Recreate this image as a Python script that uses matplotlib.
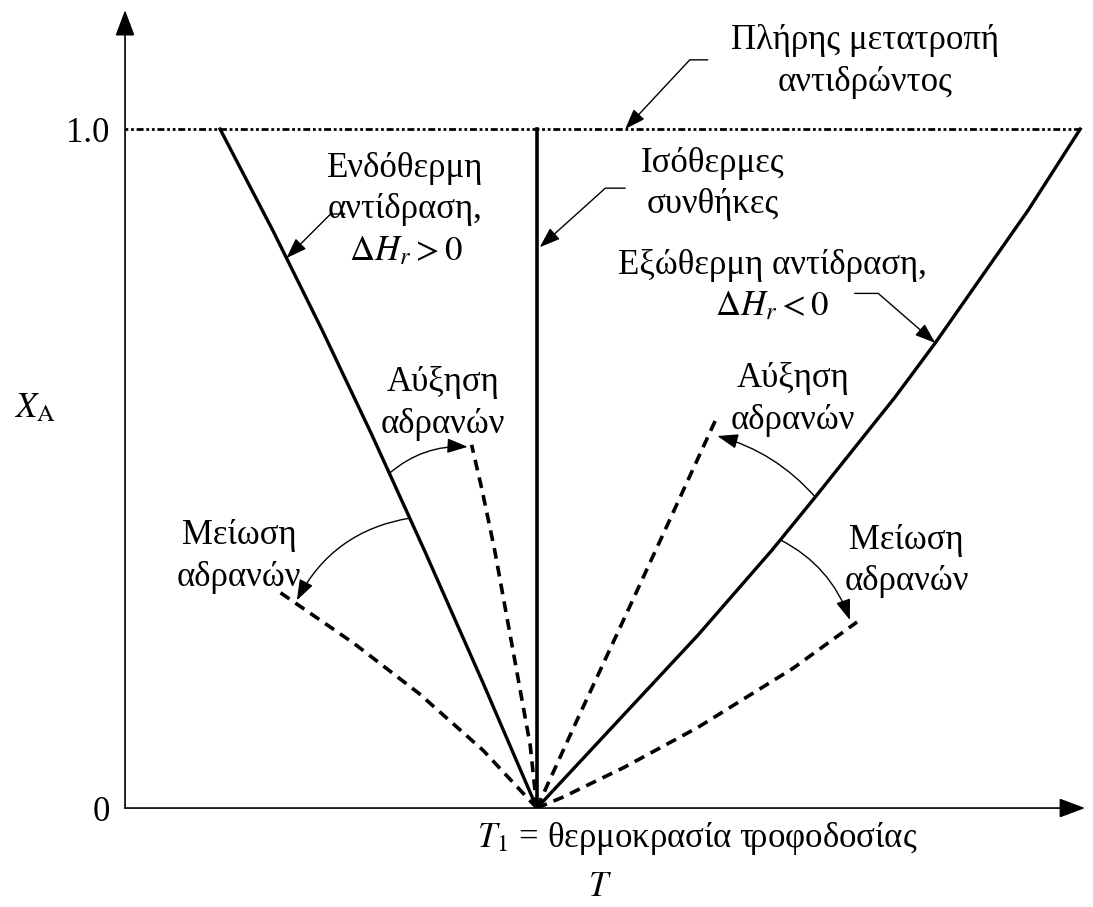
import numpy as np
import matplotlib.pyplot as plt

'''
Data read off the sketch (T in relative units, axis = 0..1, X_A = conversion)
'''

T1 = 0.429

# Solid curves
endo_T = [0.429, 0.373, 0.3117, 0.257, 0.2053, 0.1542, 0.099]
endo_X = [0.0, 0.184, 0.380, 0.550, 0.704, 0.850, 1.0]

iso_T = [0.429, 0.429]
iso_X = [0.0, 1.0]

exo_T = [0.429, 0.597, 0.674, 0.719, 0.802, 0.844, 0.941, 0.995]
exo_X = [0.0, 0.255, 0.380, 0.458, 0.605, 0.685, 0.881, 1.0]

# Dashed curves (more / less inerts)
endo_up_T = [0.429, 0.422, 0.404, 0.385, 0.372, 0.361]
endo_up_X = [0.0, 0.093, 0.233, 0.380, 0.468, 0.535]

endo_down_T = [0.429, 0.373, 0.306, 0.238, 0.162]
endo_down_X = [0.0, 0.085, 0.169, 0.243, 0.317]

exo_up_T = [0.429, 0.471, 0.516, 0.564, 0.615]
exo_up_X = [0.0, 0.130, 0.267, 0.414, 0.571]

exo_down_T = [0.429, 0.456, 0.520, 0.597, 0.696, 0.7625]
exo_down_X = [0.0, 0.016, 0.060, 0.119, 0.206, 0.274]

# Full conversion line
full_T = [0.0, 0.995]
full_X = [1.0, 1.0]

plt.rcParams['font.family'] = ['Liberation Serif', 'DejaVu Serif']
plt.rcParams['mathtext.fontset'] = 'stix'
FS = 25
LS = 1.35

fig = plt.figure(figsize=(10.93, 9.07), dpi=100)
ax = fig.add_axes([0.1144, 0.1091, 0.8783, 0.8798])
ax.set_xlim(0, 1.0)
ax.set_ylim(0, 1.1753)
for s in ax.spines.values():
    s.set_visible(False)

# Axes with arrow heads
arr = dict(arrowstyle='-|>,head_length=0.8,head_width=0.3', lw=1.2, color='black',
           shrinkA=0, shrinkB=0, mutation_scale=20)
ax.annotate('', xy=(0, 1.1753), xytext=(0, 0), arrowprops=arr, annotation_clip=False)
ax.annotate('', xy=(1.0, 0), xytext=(0, 0), arrowprops=arr, annotation_clip=False)

ax.set_xticks([])
ax.set_yticks([0, 1.0])
ax.set_yticklabels(['0', '1.0'], fontsize=FS)
ax.tick_params(axis='y', length=0, pad=11)

ax.set_ylabel('$X_\\mathrm{A}$', fontsize=FS, rotation=0)
ax.yaxis.set_label_coords(-0.094, 0.5)
ax.yaxis.label.set_va('center')
ax.set_xlabel('$T$', fontsize=FS)
ax.xaxis.set_label_coords(0.495, -0.1)
ax.xaxis.label.set_va('center')

# Curves
ax.plot(full_T, full_X, color='black', lw=2.0, ls=(0, (1, 1, 1, 1, 2.5, 1)))
ax.plot(endo_T, endo_X, color='black', lw=2.4, solid_joinstyle='round')
ax.plot(iso_T, iso_X, color='black', lw=2.6)
ax.plot(exo_T, exo_X, color='black', lw=2.4, solid_joinstyle='round')
for tt, xx in [(endo_up_T, endo_up_X), (endo_down_T, endo_down_X),
               (exo_up_T, exo_up_X), (exo_down_T, exo_down_X)]:
    ax.plot(tt, xx, color='black', lw=2.6, ls=(0, (3, 2)))

ax.text(T1 - 0.0625, -0.045, '$T_1$ = θερμοκρασία τροφοδοσίας', fontsize=FS,
        ha='left', va='center')

# Leader arrows
lead = dict(arrowstyle='-|>,head_length=0.7,head_width=0.25', lw=1.0, color='black',
            shrinkA=0, shrinkB=0, mutation_scale=18)

ax.text(0.771, 1.100, 'Πλήρης μετατροπή\nαντιδρώντος', fontsize=FS, ha='center',
        va='center', linespacing=LS)
ax.annotate('', xy=(0.521, 1.0), xytext=(0.607, 1.102),
            arrowprops=dict(lead, connectionstyle='angle,angleA=0,angleB=47,rad=0'))

ax.text(0.292, 0.881, 'Ενδόθερμη\nαντίδραση,\n$\\Delta H_r > 0$', fontsize=FS,
        ha='center', va='center', linespacing=LS)
ax.annotate('', xy=(np.interp(0.81, endo_X, endo_T), 0.81), xytext=(0.229, 0.875),
            arrowprops=dict(lead, connectionstyle='angle,angleA=0,angleB=45,rad=0'))

ax.text(0.6125, 0.919, 'Ισόθερμες\nσυνθήκες', fontsize=FS, ha='center',
        va='center', linespacing=LS)
ax.annotate('', xy=(T1 + 0.003, 0.826), xytext=(0.521, 0.913),
            arrowprops=dict(lead, connectionstyle='angle,angleA=0,angleB=42,rad=0'))

ax.text(0.674, 0.769, 'Εξώθερμη αντίδραση,\n$\\Delta H_r < 0$', fontsize=FS,
        ha='center', va='center', linespacing=LS)
ax.annotate('', xy=(np.interp(0.685, exo_X, exo_T), 0.685), xytext=(0.760, 0.758),
            arrowprops=dict(lead, connectionstyle='angle,angleA=0,angleB=-41,rad=0'))

# Inerts arrows
ax.text(0.331, 0.596, 'Αύξηση\nαδρανών', fontsize=FS, ha='center', va='center', linespacing=LS)
ax.annotate('', xy=(0.357, 0.532), xytext=(np.interp(0.493, endo_X, endo_T), 0.493),
            arrowprops=dict(lead, connectionstyle='arc3,rad=-0.2'))

ax.text(0.119, 0.370, 'Μείωση\nαδρανών', fontsize=FS, ha='center', va='center', linespacing=LS)
ax.annotate('', xy=(0.179, 0.306), xytext=(np.interp(0.427, endo_X, endo_T), 0.427),
            arrowprops=dict(lead, connectionstyle='arc3,rad=0.25'))

ax.text(0.696, 0.602, 'Αύξηση\nαδρανών', fontsize=FS, ha='center', va='center', linespacing=LS)
ax.annotate('', xy=(0.617, 0.548), xytext=(np.interp(0.458, exo_X, exo_T), 0.458),
            arrowprops=dict(lead, connectionstyle='arc3,rad=0.15'))

ax.text(0.814, 0.364, 'Μείωση\nαδρανών', fontsize=FS, ha='center', va='center', linespacing=LS)
ax.annotate('', xy=(0.755, 0.277), xytext=(np.interp(0.395, exo_X, exo_T), 0.395),
            arrowprops=dict(lead, connectionstyle='arc3,rad=-0.2'))

plt.savefig('out.png', dpi=100)
